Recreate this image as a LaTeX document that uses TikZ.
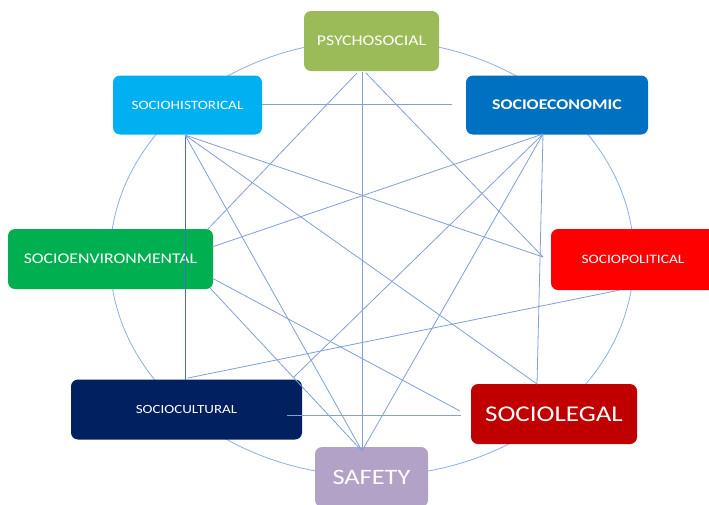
\documentclass[tikz,border=0pt]{standalone}
\usepackage{fontspec}
\setmainfont{Carlito}[FakeStretch=1.2]
\definecolor{cpsy}{HTML}{9BBB59}
\definecolor{chis}{HTML}{00B0F0}
\definecolor{ceco}{HTML}{0070C0}
\definecolor{cenv}{HTML}{00B050}
\definecolor{cpol}{HTML}{FF0000}
\definecolor{ccul}{HTML}{002060}
\definecolor{cleg}{HTML}{C00000}
\definecolor{csaf}{HTML}{B3A2C7}
\definecolor{cring}{RGB}{140,175,225}
\definecolor{clink}{RGB}{130,160,212}
\definecolor{cdark}{RGB}{70,110,196}
\begin{document}
\begin{tikzpicture}[x=1pt,y=-1pt,
  box/.style={rectangle, rounded corners=7pt, inner sep=0pt, text=white, anchor=center},
  ringline/.style={draw=cring, line width=0.8pt},
  link/.style={draw=clink, line width=0.8pt},
  darklink/.style={draw=cdark, line width=0.9pt}]
\useasboundingbox (0,0) rectangle (709,504);
\fill[white] (0,0) rectangle (709,504);
% ring
\draw[ringline] (372,258) ellipse [x radius=262pt, y radius=218pt];
% boxes
\node[box, fill=cpsy, minimum width=135pt, minimum height=60pt, font=\fontsize{14.8}{16}\selectfont] (psy) at (371.5,41) {PSYCHOSOCIAL};
\node[box, fill=chis, minimum width=149pt, minimum height=59pt, font=\fontsize{12.7}{14}\selectfont] (his) at (187.5,105) {SOCIOHISTORICAL};
\node[box, fill=ceco, minimum width=182pt, minimum height=59pt, font=\bfseries\fontsize{14.8}{16}\selectfont] (eco) at (557,105) {SOCIOECONOMIC};
\node[box, fill=cenv, minimum width=205pt, minimum height=60pt, font=\fontsize{14.8}{16}\selectfont] (env) at (110.5,259) {SOCIOENVIRONMENTAL};
\node[box, fill=cpol, minimum width=164pt, minimum height=61pt, font=\fontsize{12.8}{14}\selectfont] (pol) at (633,259.5) {SOCIOPOLITICAL};
\node[box, fill=ccul, minimum width=231pt, minimum height=60pt, font=\fontsize{12.5}{14}\selectfont] (cul) at (186.5,409.5) {SOCIOCULTURAL};
\node[box, fill=cleg, minimum width=166pt, minimum height=60pt, font=\fontsize{22.5}{24}\selectfont] (leg) at (554,414) {SOCIOLEGAL};
\node[box, fill=csaf, minimum width=113pt, minimum height=60pt, font=\fontsize{22}{24}\selectfont] (saf) at (371.5,477) {SAFETY};
% connector end points
\coordinate (psyS) at (362,72);
\coordinate (psySW) at (357,73);
\coordinate (psySE) at (366,73);
\coordinate (hisS) at (185,135);
\coordinate (hisE) at (262,104);
\coordinate (ecoW) at (452,104);
\coordinate (ecoS) at (543,134);
\coordinate (envNE) at (208,229);
\coordinate (envE1) at (212,247);
\coordinate (envE2) at (212,278);
\coordinate (envSE) at (210,288);
\coordinate (polW) at (543,257);
\coordinate (polSW) at (620,290);
\coordinate (culN) at (185,380);
\coordinate (culN2) at (188,378);
\coordinate (culNE) at (294,377);
\coordinate (culE) at (287,415);
\coordinate (legN) at (537,384);
\coordinate (legW1) at (460,411);
\coordinate (legW2) at (461,415);
\coordinate (safN) at (362,451);
% connectors
\draw[link] (psySW) -- (envNE);
\draw[link] (psyS) -- (safN);
\draw[link] (psySE) -- (polW);
\draw[link] (hisE) -- (ecoW);
\draw[darklink] (hisS) -- (culN);
\draw[link] (hisS) -- (safN);
\draw[link] (hisS) -- (legN);
\draw[link] (hisS) -- (polW);
\draw[link] (ecoS) -- (envE1);
\draw[link] (ecoS) -- (culNE);
\draw[link] (ecoS) -- (safN);
\draw[link] (ecoS) -- (legN);
\draw[link] (envE2) -- (legW1);
\draw[link] (envSE) -- (safN);
\draw[link] (polSW) -- (culN2);
\draw[link] (culE) -- (legW2);
\end{tikzpicture}
\end{document}
